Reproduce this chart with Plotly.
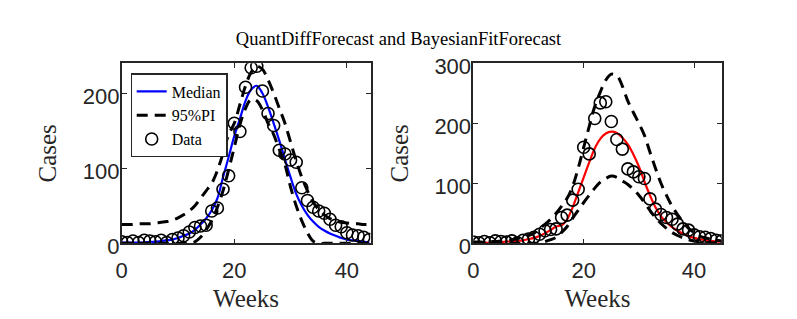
import plotly.graph_objects as go

# ---------------- data ----------------
weeks_left = list(range(0, 45))
cases_left = [2, 1, 3, 1, 4, 3, 2, 4, 1, 5, 7, 10, 15, 21, 23, 24, 43, 47, 72, 90,
              160, 149, 208, 234, 236, 203, 173, 157, 124, 119, 111, 108, 74, 57, 48, 43, 40, 32, 24, 22,
              14, 11, 10, 8, 5]

median_left = [1, 1, 1, 1, 1, 2, 2, 3, 4, 5, 7, 10, 13, 18, 25, 33, 44, 60, 88, 115,
               143, 166, 190, 205, 210, 200, 182, 160, 137, 112, 88, 66, 50, 38, 29, 22, 17, 13, 10, 7,
               5, 4, 3, 2, 1]
upper_left = [25, 25, 25, 26, 26, 26, 27, 28, 29, 31, 34, 38, 43, 50, 60, 70, 80, 97, 120, 145,
              160, 185, 210, 228, 236, 232, 218, 200, 180, 160, 135, 110, 88, 70, 55, 45, 38, 33, 30, 28,
              27, 26, 26, 25, 25]
lower_left = [0, 0, 0, 0, 0, 0, 0, 0, 0, 0, 0, 0, 0, 2, 8, 18, 30, 48, 70, 98,
              128, 158, 180, 192, 190, 178, 160, 145, 125, 105, 75, 50, 30, 14, 3, 0, 0, 0, 0, 0,
              0, 0, 0, 0, 0]

weeks_right = list(range(0, 46))
cases_right = [2, 1, 3, 1, 4, 3, 2, 4, 1, 5, 7, 10, 15, 21, 23, 24, 43, 47, 72, 90,
               160, 149, 208, 234, 236, 203, 173, 157, 124, 119, 111, 108, 74, 57, 48, 43, 40, 32, 24, 22,
               14, 11, 10, 8, 5, 4]
median_right = [1, 1, 1, 1, 2, 2, 3, 3, 4, 5, 7, 9, 12, 17, 22, 28, 30, 40, 60, 85,
                110, 135, 158, 174, 183, 186, 184, 176, 165, 148, 128, 103, 80, 60, 45, 35, 27, 21, 16, 12,
                9, 7, 5, 4, 3, 3]
upper_right = [2, 2, 2, 3, 3, 4, 5, 6, 8, 10, 13, 17, 24, 32, 40, 50, 62, 75, 95, 125,
               160, 195, 228, 252, 272, 282, 280, 262, 237, 218, 200, 180, 152, 125, 100, 80, 62, 48, 36, 25,
               18, 12, 9, 7, 5, 4]
lower_right = [0, 0, 0, 0, 0, 0, 0, 0, 0, 0, 0, 0, 1, 3, 6, 10, 18, 28, 42, 55,
               68, 80, 92, 102, 108, 112, 110, 104, 98, 90, 80, 68, 55, 43, 33, 25, 18, 13, 9, 6,
               4, 3, 2, 1, 1, 1]

x_ticks = [0, 20, 40]
y_ticks_left = [0, 100, 200]
y_ticks_right = [0, 100, 200, 300]

title_text = "QuantDiffForecast and BayesianFitForecast"

# ---------------- figure ----------------
W, H = 797, 319
AX = "#262626"
SERIF = "Liberation Serif, Times New Roman, serif"
SANS = "Liberation Sans, Arial, sans-serif"
DASH = "11px,7px"

fig = go.Figure()

# left panel
fig.add_trace(go.Scatter(x=weeks_left, y=median_left, mode="lines", name="Median",
                         line=dict(color="#0000ff", width=2.2, shape="spline"),
                         xaxis="x", yaxis="y"))
fig.add_trace(go.Scatter(x=weeks_left, y=upper_left, mode="lines", name="95%PI",
                         line=dict(color="black", width=3, dash=DASH, shape="spline"),
                         xaxis="x", yaxis="y"))
fig.add_trace(go.Scatter(x=weeks_left, y=lower_left, mode="lines", name="95%PI lower",
                         line=dict(color="black", width=3, dash=DASH, shape="spline"),
                         xaxis="x", yaxis="y", showlegend=False))
fig.add_trace(go.Scatter(x=weeks_left, y=cases_left, mode="markers", name="Data",
                         marker=dict(symbol="circle-open", size=12, color="black",
                                     line=dict(width=1.6, color="black")),
                         xaxis="x", yaxis="y"))

# right panel
fig.add_trace(go.Scatter(x=weeks_right, y=median_right, mode="lines", name="Median",
                         line=dict(color="#ff0000", width=2.2, shape="spline"),
                         xaxis="x2", yaxis="y2", showlegend=False))
fig.add_trace(go.Scatter(x=weeks_right, y=upper_right, mode="lines", name="95%PI",
                         line=dict(color="black", width=3, dash=DASH, shape="spline"),
                         xaxis="x2", yaxis="y2", showlegend=False))
fig.add_trace(go.Scatter(x=weeks_right, y=lower_right, mode="lines", name="95%PI lower",
                         line=dict(color="black", width=3, dash=DASH, shape="spline"),
                         xaxis="x2", yaxis="y2", showlegend=False))
fig.add_trace(go.Scatter(x=weeks_right, y=cases_right, mode="markers", name="Data",
                         marker=dict(symbol="circle-open", size=12, color="black",
                                     line=dict(width=1.6, color="black")),
                         xaxis="x2", yaxis="y2", showlegend=False))

def px_x(p):
    return p / W

def px_y(p):
    return 1 - p / H

common_axis = dict(showline=True, linecolor=AX, linewidth=1.6, mirror="allticks",
                   ticks="inside", ticklen=5, tickwidth=1.2, tickcolor=AX,
                   showgrid=False, zeroline=False, automargin=False,
                   tickfont=dict(family=SANS, size=22, color=AX))

x_title = dict(text="Weeks", font=dict(family=SERIF, size=25, color=AX), standoff=8)
y_title = dict(text="Cases", font=dict(family=SERIF, size=25, color=AX), standoff=19)

fig.update_layout(
    width=W, height=H,
    margin=dict(l=0, r=0, t=0, b=0),
    paper_bgcolor="white", plot_bgcolor="white",
    title=dict(text=title_text, x=0.5, xanchor="center", y=px_y(39), yanchor="middle",
               font=dict(family=SERIF, size=18.5, color="black"), automargin=False),
    xaxis=dict(domain=[px_x(121.7), px_x(370.5)], range=[0, 44.2], tickvals=x_ticks,
               anchor="y", title=x_title, ticklabelstandoff=6, **common_axis),
    yaxis=dict(domain=[px_y(243.3), px_y(63.3)], range=[0, 240], tickvals=y_ticks_left,
               anchor="x", title=y_title, ticklabelstandoff=-4, ticklabelshift=3,
               **common_axis),
    xaxis2=dict(domain=[px_x(473.3), px_x(721.7)], range=[0, 45], tickvals=x_ticks,
                anchor="y2", title=x_title, ticklabelstandoff=6, **common_axis),
    yaxis2=dict(domain=[px_y(243.3), px_y(63.3)], range=[0, 300], tickvals=y_ticks_right,
                anchor="x2", title=y_title, ticklabelstandoff=-4, ticklabelshift=3,
                **common_axis),
    legend=dict(x=px_x(130.5), y=px_y(73.3), xanchor="left", yanchor="top",
                bgcolor="white", bordercolor=AX, borderwidth=1.2,
                font=dict(family=SERIF, size=16, color="black"),
                itemwidth=30, tracegroupgap=0),
    showlegend=True,
)

fig.write_html("out.html", config={"displayModeBar": False},
               post_script="document.body.style.margin='0';")
